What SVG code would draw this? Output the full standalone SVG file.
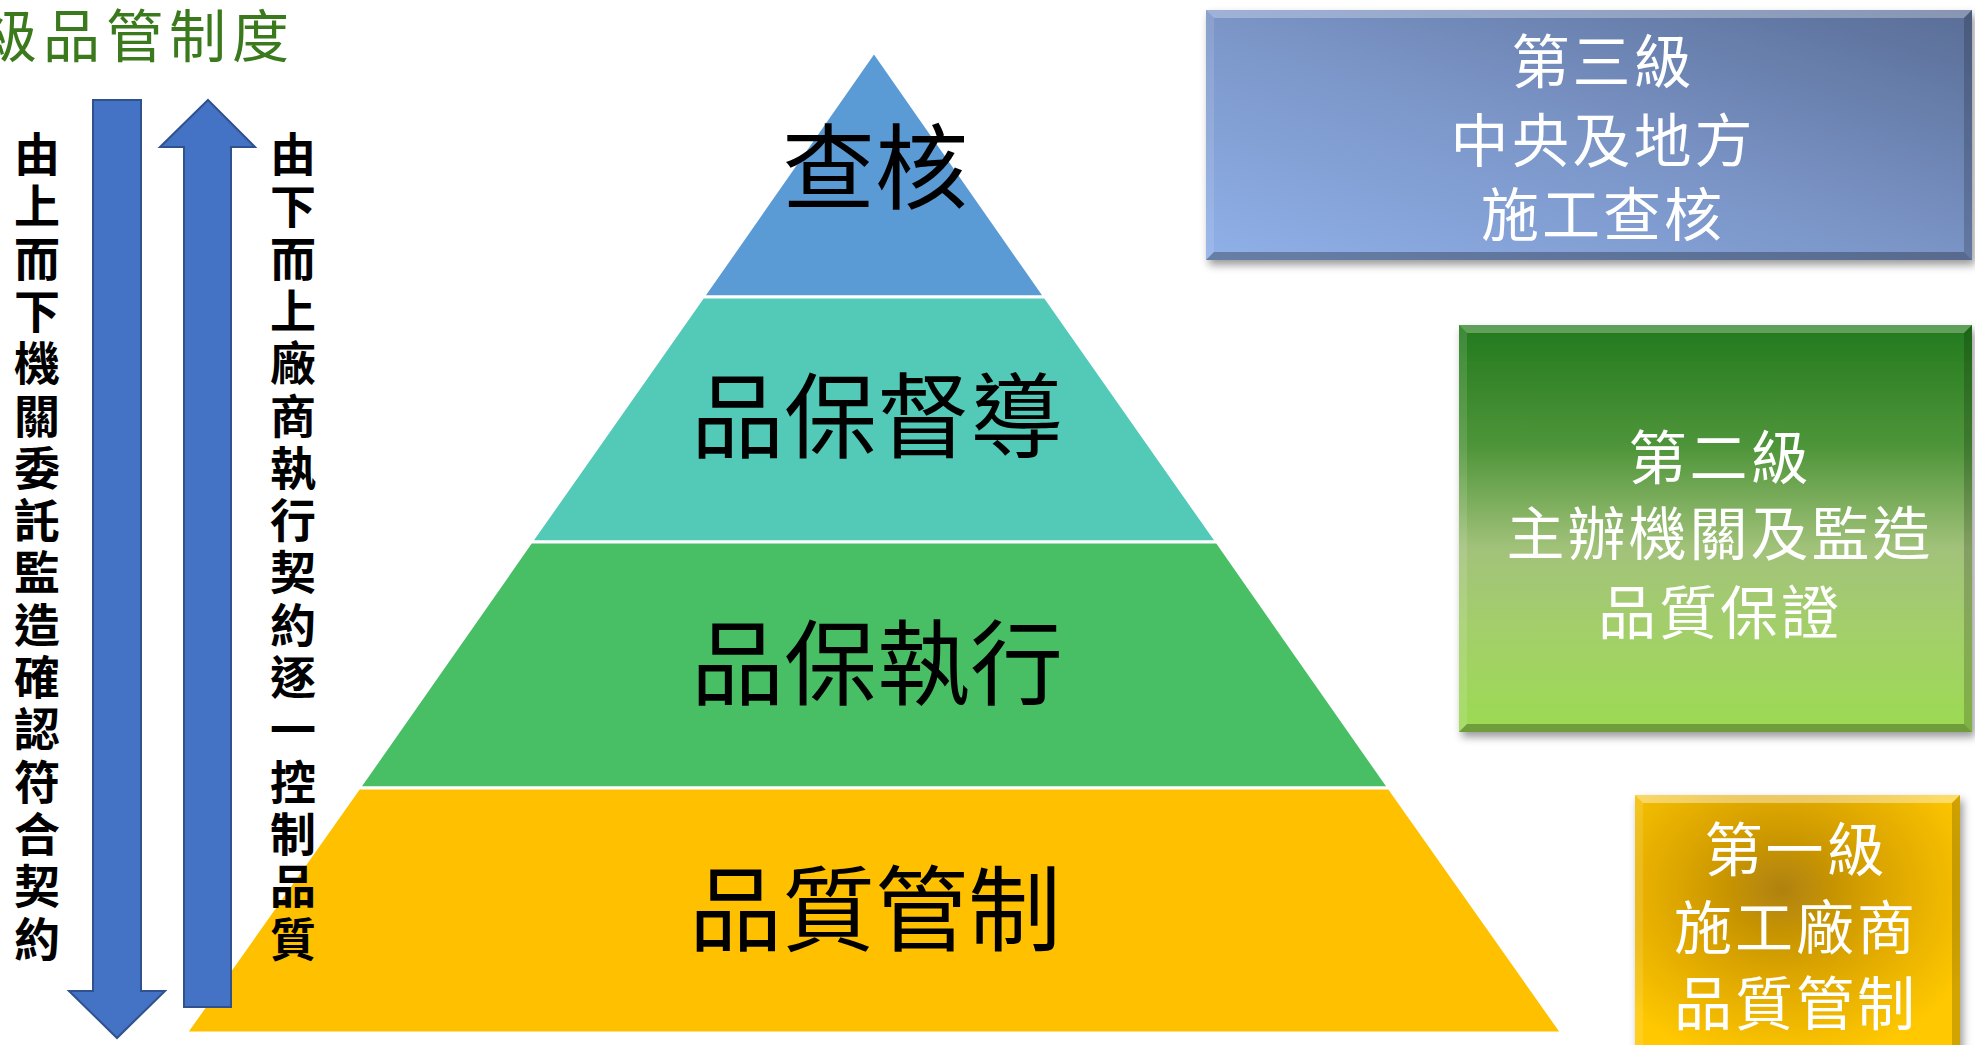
<svg xmlns="http://www.w3.org/2000/svg" width="1975" height="1045" viewBox="0 0 1975 1045">
<style>
.cjk{font-family:"Noto Sans CJK TC","Noto Sans CJK SC",sans-serif;}
.lvl{font-size:93px;fill:#000;text-anchor:middle;}
.vt{font-family:"Liberation Sans","Noto Sans CJK TC",sans-serif;font-size:46px;font-weight:700;fill:#000;text-anchor:middle;}
.box{font-family:"Liberation Sans","Noto Sans CJK TC",sans-serif;font-size:58px;fill:#fff;text-anchor:middle;letter-spacing:3px;}
.arrow{fill:#4472C4;stroke:#2F528F;stroke-width:2;}
.layer{stroke:#fff;stroke-width:3;}
.hl{fill:#fff;opacity:0.28;}
.hl2{fill:#fff;opacity:0.12;}
.sh{fill:#000;opacity:0.28;}
.sh2{fill:#000;opacity:0.18;}
</style>
<defs>
<linearGradient id="gBlue" x1="0" y1="1" x2="1" y2="0">
<stop offset="0" stop-color="#8FB0E8"/>
<stop offset="0.5" stop-color="#7A94C6"/>
<stop offset="1" stop-color="#596D96"/>
</linearGradient>
<linearGradient id="gGreen" x1="0" y1="0" x2="0" y2="1">
<stop offset="0" stop-color="#227A1D"/>
<stop offset="0.3" stop-color="#4F953A"/>
<stop offset="0.55" stop-color="#A2C27A"/>
<stop offset="0.75" stop-color="#A3CF6A"/>
<stop offset="1" stop-color="#9CDA52"/>
</linearGradient>
<radialGradient id="gGold" cx="0.45" cy="0.35" r="0.65">
<stop offset="0" stop-color="#B08208"/>
<stop offset="0.5" stop-color="#DDA604"/>
<stop offset="1" stop-color="#FFC800"/>
</radialGradient>
<filter id="shadow" x="-5%" y="-5%" width="115%" height="120%">
<feDropShadow dx="3" dy="5" stdDeviation="4" flood-color="#000" flood-opacity="0.4"/>
</filter>
</defs>
<rect width="1975" height="1045" fill="#fff"/>

<g id="title">
<text class="cjk" x="-20" y="57" font-size="57" fill="#3A7A1C" letter-spacing="6">級品管制度</text>
</g>

<g id="pyramid">
<g id="layer-audit">
<polygon class="layer" points="874,52 1045,297 703,297" fill="#5B9BD5"/>
<text class="cjk lvl" x="875" y="202">查核</text>
</g>
<g id="layer-supervision">
<polygon class="layer" points="703,297 1045,297 1217,542 531,542" fill="#53C9B7"/>
<text class="cjk lvl" x="877" y="451">品保督導</text>
</g>
<g id="layer-execution">
<polygon class="layer" points="531,542 1217,542 1389,788 359,788" fill="#49BF65"/>
<text class="cjk lvl" x="877" y="698">品保執行</text>
</g>
<g id="layer-qc">
<polygon class="layer" points="359,788 1389,788 1562,1033 186,1033" fill="#FFC000"/>
<text class="cjk lvl" x="875" y="944">品質管制</text>
</g>
</g>

<g id="arrows">
<polygon id="arrow-down" class="arrow" points="93,100 141,100 141,991 165,991 117,1038 69,991 93,991"/>
<polygon id="arrow-up" class="arrow" points="208,100 255,147 231,147 231,1007 184,1007 184,147 160,147"/>
</g>

<g id="label-topdown">
<text class="vt"><tspan x="37" y="171">由</tspan><tspan x="37" y="223.3">上</tspan><tspan x="37" y="275.6">而</tspan><tspan x="37" y="327.9">下</tspan><tspan x="37" y="380.2">機</tspan><tspan x="37" y="432.5">關</tspan><tspan x="37" y="484.8">委</tspan><tspan x="37" y="537.1">託</tspan><tspan x="37" y="589.4">監</tspan><tspan x="37" y="641.7">造</tspan><tspan x="37" y="694">確</tspan><tspan x="37" y="746.3">認</tspan><tspan x="37" y="798.6">符</tspan><tspan x="37" y="850.9">合</tspan><tspan x="37" y="903.2">契</tspan><tspan x="37" y="955.5">約</tspan></text>
</g>
<g id="label-bottomup">
<text class="vt"><tspan x="293" y="171">由</tspan><tspan x="293" y="223.3">下</tspan><tspan x="293" y="275.6">而</tspan><tspan x="293" y="327.9">上</tspan><tspan x="293" y="380.2">廠</tspan><tspan x="293" y="432.5">商</tspan><tspan x="293" y="484.8">執</tspan><tspan x="293" y="537.1">行</tspan><tspan x="293" y="589.4">契</tspan><tspan x="293" y="641.7">約</tspan><tspan x="293" y="694">逐</tspan><tspan x="293" y="746.3">一</tspan><tspan x="293" y="798.6">控</tspan><tspan x="293" y="850.9">制</tspan><tspan x="293" y="903.2">品</tspan><tspan x="293" y="955.5">質</tspan></text>
</g>

<g id="level3">
<rect x="1206" y="10" width="766" height="250" fill="url(#gBlue)" filter="url(#shadow)"/>
<polygon class="hl" points="1206,10 1972,10 1964,18 1214,18"/>
<polygon class="hl2" points="1206,10 1214,18 1214,252 1206,260"/>
<polygon class="sh" points="1206,260 1214,252 1964,252 1972,260"/>
<polygon class="sh2" points="1972,10 1972,260 1964,252 1964,18"/>
<text class="box"><tspan x="1603" y="83">第三級</tspan><tspan x="1603" y="162">中央及地方</tspan><tspan x="1603" y="236">施工查核</tspan></text>
</g>

<g id="level2">
<rect x="1459" y="325" width="513" height="407" fill="url(#gGreen)" filter="url(#shadow)"/>
<polygon class="hl" points="1459,325 1972,325 1964,333 1467,333"/>
<polygon class="hl2" points="1459,325 1467,333 1467,724 1459,732"/>
<polygon class="sh" points="1459,732 1467,724 1964,724 1972,732"/>
<polygon class="sh2" points="1972,325 1972,732 1964,724 1964,333"/>
<text class="box"><tspan x="1720" y="479">第二級</tspan><tspan x="1720" y="555">主辦機關及監造</tspan><tspan x="1720" y="634">品質保證</tspan></text>
</g>

<g id="level1">
<rect x="1635" y="795" width="325" height="270" fill="url(#gGold)" filter="url(#shadow)"/>
<polygon class="hl" points="1635,795 1960,795 1952,803 1643,803" style="opacity:0.4"/>
<polygon class="hl2" points="1635,795 1643,803 1643,1065 1635,1065"/>
<polygon class="sh2" points="1960,795 1960,1065 1952,1065 1952,803"/>
<text class="box"><tspan x="1796" y="871">第一級</tspan><tspan x="1796" y="949">施工廠商</tspan><tspan x="1796" y="1025">品質管制</tspan></text>
</g>
</svg>
